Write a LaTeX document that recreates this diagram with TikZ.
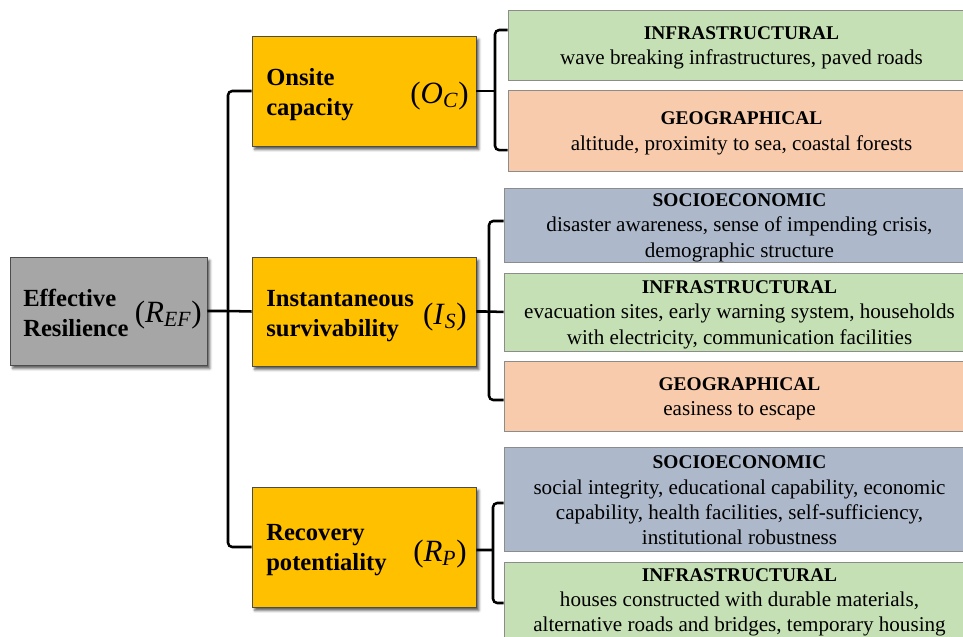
\documentclass[tikz,border=0pt]{standalone}
\usepackage{fontspec}
\setmainfont{Liberation Serif}
\usetikzlibrary{positioning, shadows.blur}
\tikzset{every node/.append style={align=center}}
\definecolor{boxgray}{RGB}{166,166,166}
\definecolor{boxgold}{RGB}{255,192,0}
\definecolor{infgreen}{RGB}{197,224,180}
\definecolor{geopeach}{RGB}{248,203,173}
\definecolor{socblue}{RGB}{173,185,202}
\definecolor{edgegray}{RGB}{140,140,140}
\newcommand{\symb}[2]{(\textit{#1}\textsubscript{\textit{#2}})}
\newcommand{\facthead}[1]{{\fontsize{13.8}{18}\selectfont\bfseries #1}}

\begin{document}
\begin{tikzpicture}[x=0.025cm, y=-0.025cm,
  mainbox/.style={draw=black!70, line width=0.6pt,
    blur shadow={shadow xshift=2pt, shadow yshift=-2.5pt, shadow blur radius=1.8pt,
                 shadow opacity=65}},
  lbl/.style={font=\fontsize{17.5}{21.3}\selectfont\bfseries, align=left, inner sep=0pt},
  sym/.style={font=\fontsize{22}{26}\selectfont, inner sep=0pt},
  factor/.style={draw=edgegray, line width=0.6pt, inner sep=0pt},
  facttxt/.style={inner sep=0pt, font=\fontsize{15}{18}\selectfont},
  link/.style={line width=1.8pt, rounded corners=3pt}]

\useasboundingbox (0,0) rectangle (963,637);

% ── Root and the three capacities ────────────────────────────────────────────
\node[mainbox, fill=boxgray, minimum width=4.925cm, minimum height=2.7cm] (REF) at (108.5,311) {};
\node[lbl, anchor=west] (REF-lbl) at (23,313) {Effective\\Resilience};
\node[sym, anchor=east] (REF-sym) at (202,315) {\symb{R}{EF}};

\node[mainbox, fill=boxgold, minimum width=5.6cm, minimum height=2.75cm] (OC) at (364,91) {};
\node[lbl, anchor=west] (OC-lbl) at (266,95) {Onsite\\capacity};
\node[sym, anchor=east] (OC-sym) at (469,96) {\symb{O}{C}};

\node[mainbox, fill=boxgold, minimum width=5.6cm, minimum height=2.725cm] (IS) at (364,311.5) {};
\node[lbl, anchor=west] (IS-lbl) at (266,316) {Instantaneous\\survivability};
\node[sym, anchor=east] (IS-sym) at (467,317) {\symb{I}{S}};

\node[mainbox, fill=boxgold, minimum width=5.6cm, minimum height=3cm] (RP) at (364,547) {};
\node[lbl, anchor=west] (RP-lbl) at (266,550) {Recovery\\potentiality};
\node[sym, anchor=east] (RP-sym) at (467,554) {\symb{R}{P}};

% ── Factor boxes ─────────────────────────────────────────────────────────────
\node[factor, fill=infgreen, minimum width=11.675cm, minimum height=1.75cm] (inf1) at (741.5,45) {};
\node[factor, fill=geopeach, minimum width=11.675cm, minimum height=2.025cm] (geo1) at (741.5,130.5) {};
\node[factor, fill=socblue, minimum width=11.775cm, minimum height=1.85cm] (soc2) at (739.5,225) {};
\node[factor, fill=infgreen, minimum width=11.775cm, minimum height=1.95cm] (inf2) at (739.5,312) {};
\node[factor, fill=geopeach, minimum width=11.775cm, minimum height=1.75cm] (geo2) at (739.5,396) {};
\node[factor, fill=socblue, minimum width=11.775cm, minimum height=2.6cm] (soc3) at (739.5,499) {};
\node[factor, fill=infgreen, minimum width=11.775cm, minimum height=1.95cm] (inf3) at (739.5,601) {};

\node[facttxt] (inf1-txt) at ([yshift=-2pt]inf1)
  {\facthead{INFRASTRUCTURAL}\\wave breaking infrastructures, paved roads};
\node[facttxt] (geo1-txt) at ([yshift=-2pt]geo1)
  {\facthead{GEOGRAPHICAL}\\altitude, proximity to sea, coastal forests};
\node[facttxt] (soc2-txt) at ([yshift=-2pt]soc2)
  {\facthead{SOCIOECONOMIC}\\disaster awareness, sense of impending crisis,\\demographic structure};
\node[facttxt] (inf2-txt) at ([yshift=-2pt]inf2)
  {\facthead{INFRASTRUCTURAL}\\evacuation sites, early warning system, households\\with electricity, communication facilities};
\node[facttxt] (geo2-txt) at ([yshift=-2pt]geo2)
  {\facthead{GEOGRAPHICAL}\\easiness to escape};
\node[facttxt] (soc3-txt) at ([yshift=-1pt]soc3)
  {\facthead{SOCIOECONOMIC}\\social integrity, educational capability, economic\\capability, health facilities, self-sufficiency,\\institutional robustness};
\node[facttxt] (inf3-txt) at ([yshift=-1pt]inf3)
  {\facthead{INFRASTRUCTURAL}\\houses constructed with durable materials,\\alternative roads and bridges, temporary housing};

% ── Connectors ───────────────────────────────────────────────────────────────
\coordinate (trunk) at (228,311);
\draw[link] (REF.east) -- (trunk) -- (IS.west);
\draw[link] (OC.west) -| (trunk) |- (RP.west);

\coordinate (brA) at (495,91);
\draw[link] (OC.east) -- (brA);
\draw[link] ([yshift=0.375cm]inf1.west) -| (brA) |- ([yshift=-0.49cm]geo1.west);

\coordinate (brB) at (489,311.5);
\draw[link] (IS.east) -- (brB) -- (inf2.west);
\draw[link] ([yshift=0.1cm]soc2.west) -| (brB) |- ([yshift=-0.1cm]geo2.west);

\coordinate (brC) at (493,550);
\draw[link] ([yshift=-0.075cm]RP.east) -- (brC);
\draw[link] ([yshift=-0.1cm]soc3.west) -| (brC) |- ([yshift=-0.05cm]inf3.west);

\end{tikzpicture}
\end{document}
